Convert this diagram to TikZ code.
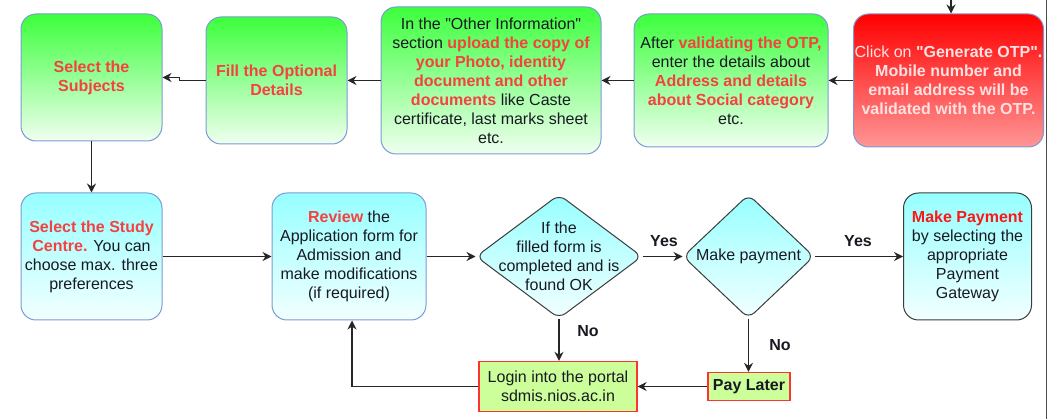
\documentclass[tikz,border=0pt]{standalone}
\usepackage{fontspec}
\setmainfont{Liberation Sans}[Ligatures=TeXOff]
\usetikzlibrary{shapes.geometric,arrows.meta}
\definecolor{gtop}{RGB}{60,255,60}
\definecolor{gbot}{RGB}{240,255,240}
\definecolor{rtop}{RGB}{255,0,0}
\definecolor{rbot}{RGB}{255,150,150}
\definecolor{ctop}{RGB}{150,255,255}
\definecolor{cbot}{RGB}{242,255,255}
\definecolor{bblue}{RGB}{125,155,210}
\definecolor{tred}{RGB}{245,65,65}
\definecolor{pred}{RGB}{250,25,25}
\definecolor{pink}{RGB}{255,225,225}
\definecolor{lgreen}{RGB}{204,255,153}
\definecolor{lred}{RGB}{255,50,50}
\definecolor{dgray}{RGB}{60,60,60}
\definecolor{txt}{RGB}{25,25,35}
\newcommand\fs{\fontsize{16}{19}\selectfont}
\newcommand\redb[1]{\textbf{\color{tred}#1}}
\begin{document}
\begin{tikzpicture}[x=1pt,y=-1pt,
  box/.style={rounded corners=15pt, draw=bblue, line width=1pt, align=center,
    font=\fs, text=txt, inner sep=0pt},
  gbox/.style={box, top color=gtop, bottom color=gbot},
  rbox/.style={box, top color=rtop, bottom color=rbot, text=pink},
  cbox/.style={box, top color=ctop, bottom color=cbot},
  dia/.style={diamond, draw=dgray, line width=1pt, rounded corners=8pt,
    top color=ctop, bottom color=cbot, inner sep=0pt},
  dtext/.style={font=\fs, text=txt, align=center},
  sbox/.style={draw=lred, line width=1.4pt, fill=lgreen, align=center,
    font=\fs, text=txt, inner sep=0pt},
  arr/.style={draw=black!85, line width=1.2pt, -{Stealth[length=9pt,width=9pt,inset=3pt]}},
  lbl/.style={font=\fs\bfseries, text=txt}
]
\useasboundingbox (0,0) rectangle (1049,419);

% top row
\node[gbox, minimum width=141pt, minimum height=127pt] (subj) at (91.5,77.5)
  {\redb{Select the}\\\redb{Subjects}};
\node[gbox, minimum width=141pt, minimum height=127pt] (opt) at (276.5,80.5)
  {\redb{Fill the Optional}\\\redb{Details}};
\node[gbox, minimum width=220pt, minimum height=147pt] (other) at (491,80.5)
  {In the "Other Information"\\section \redb{upload the copy of}\\\redb{your Photo, identity}\\\redb{document and other}\\\redb{documents} like Caste\\certificate, last marks sheet\\etc.};
\node[gbox, minimum width=194pt, minimum height=133pt] (valid) at (731,80.5)
  {After \redb{validating the OTP,}\\enter the details about\\\redb{Address and details}\\\redb{about Social category}\\etc.};
\node[rbox, minimum width=190pt, minimum height=133pt] (otp) at (948.5,80.5)
  {Click on \textbf{"Generate OTP".}\\\textbf{Mobile number and}\\\textbf{email address will be}\\\textbf{validated with the OTP.}};

% middle row
\node[cbox, minimum width=141pt, minimum height=127pt] (centre) at (91.5,256.5)
  {\redb{Select the Study}\\\redb{Centre.} You can\\choose max. three\\preferences};
\node[cbox, minimum width=154pt, minimum height=127pt] (review) at (349,256.5)
  {\redb{Review} the\\Application form for\\Admission and\\make modifications\\(if required)};
\node[dia, minimum width=166pt, minimum height=124pt,
  label={[dtext]center:{If the\\filled form is\\completed and is\\found OK}}] (d1) at (559,256.5) {};
\node[dia, minimum width=131pt, minimum height=124pt,
  label={[dtext]center:{Make payment}}] (d2) at (748.5,256.5) {};
\node[cbox, draw=dgray, minimum width=128pt, minimum height=127pt] (pay) at (967.5,256.5)
  {\textbf{\color{pred}Make Payment}\\by selecting the\\appropriate\\Payment\\Gateway};

% bottom row
\node[sbox, minimum width=158pt, minimum height=50pt] (login) at (558,386.5)
  {Login into the portal\\sdmis.nios.ac.in};
\node[sbox, minimum width=82pt, minimum height=28pt, font=\fs\bfseries] (later) at (749,386.5)
  {Pay Later};

% connectors
\coordinate (otpin) at (951,0);
\draw[arr] (otpin) -- (otpin |- otp.north);
\draw[arr] (otp.west) -- (valid.east);
\draw[arr] (valid.west) -- (other.east);
\draw[arr] (other.west) -- (opt.east);
\draw[arr] (opt.west) -- ++(-26,0) |- (subj.east);
\draw[arr] (subj.south) -- (centre.north);
\draw[arr] (centre.east) -- (review.west);
\draw[arr] (review.east) -- (d1.west);
\draw[arr] (d1.east) -- (d2.west);
\draw[arr] (d2.east) -- (pay.west);
\draw[arr] (d1.south) -- (d1.south |- login.north);
\draw[arr] (d2.south) -- (d2.south |- later.north);
\draw[arr] (later.west) -- (login.east);
\draw[arr] (login.west) -| ([xshift=3pt]review.south);

% labels
\node[lbl] at (664,241) {Yes};
\node[lbl] at (858,241) {Yes};
\node[lbl] at (588,331) {No};
\node[lbl] at (780,345) {No};

% right border
\draw[line width=1.3pt, draw=black!70] (1046.5,0) -- (1046.5,419);
\end{tikzpicture}
\end{document}
